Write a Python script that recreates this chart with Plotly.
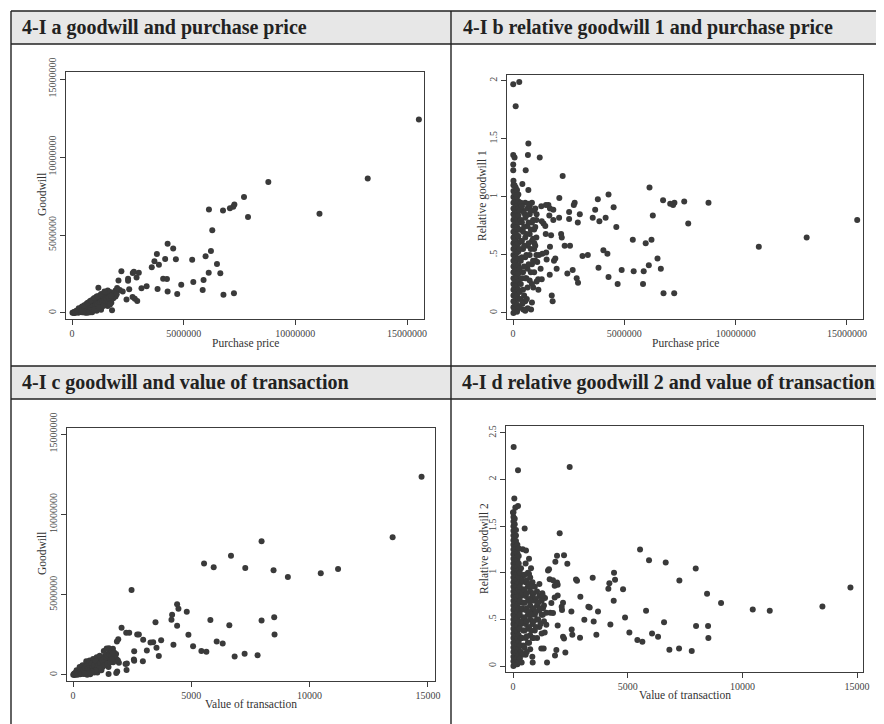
import plotly.graph_objects as go

W, H = 884, 724
OFF = 8      # the page body margin shifts the figure by 8 px
M = 1e6      # price / goodwill values below are given in millions

# ---------------- Panel a: goodwill vs purchase price (millions) ----------------
a_price = [15.53, 13.24, 11.08, 8.79, 7.70, 7.88, 7.27, 7.22, 7.07, 6.76, 6.13, 6.28, 6.22, 5.98,
           6.49, 6.12, 6.64, 5.89, 5.85, 6.78, 7.25, 5.38, 5.43, 4.89, 4.71, 4.28, 3.83, 4.08, 4.25,
           4.28, 4.53, 4.65, 4.17, 3.80, 3.69, 3.89, 3.57, 3.34, 3.11, 2.99, 2.89, 2.77, 2.72, 2.51,
           2.51, 2.21, 2.08, 2.56, 2.44, 2.71, 2.81, 2.92, 2.27, 2.14, 1.79, 1.76, 1.18]
a_goodwill = [12.40, 8.62, 6.36, 8.39, 7.43, 6.15, 6.96, 6.81, 6.72, 6.57, 6.64, 5.31, 3.97, 3.63,
              3.14, 2.58, 2.54, 2.11, 1.47, 1.17, 1.26, 3.41, 1.98, 1.81, 1.22, 1.37, 1.54, 2.20, 2.18,
              4.44, 4.14, 3.44, 3.46, 3.78, 3.31, 3.09, 2.94, 1.71, 1.58, 2.58, 2.28, 2.65, 2.56, 2.20,
              2.07, 2.67, 2.09, 1.52, 0.87, 1.02, 0.92, 0.77, 1.37, 1.47, 0.17, 0.66, 1.62]
a_price_cluster = [0.02, 0.05, 0.08, 0.10, 0.12, 0.15, 0.18, 0.20, 0.22, 0.25, 0.28, 0.30, 0.32, 0.35,
                   0.38, 0.40, 0.42, 0.45, 0.48, 0.50, 0.52, 0.55, 0.58, 0.60, 0.62, 0.65, 0.68, 0.70,
                   0.72, 0.75, 0.78, 0.80, 0.82, 0.85, 0.88, 0.90, 0.92, 0.95, 0.98, 1.00, 1.02, 1.05,
                   1.08, 1.10, 1.12, 1.15, 1.18, 1.20, 1.22, 1.25, 1.28, 1.30, 1.32, 1.35, 1.38, 1.40,
                   1.42, 1.45, 1.48, 1.50, 1.52, 1.55, 1.58, 1.60, 1.62, 1.65, 1.68, 1.70, 1.72, 1.75,
                   1.78, 1.80, 1.85, 1.88, 1.90, 1.95, 0.30, 0.60, 0.90, 0.45, 1.30, 1.60, 1.70, 1.95,
                   2.00, 2.02, 0.15, 0.25, 0.35, 0.45, 0.55, 0.65, 0.75, 0.85, 0.95, 1.05, 1.15, 1.25,
                   1.35, 1.45, 1.55, 1.65, 1.75, 0.40, 0.60, 0.80, 1.00, 1.20, 1.40, 0.70, 0.50, 1.10,
                   1.25, 1.45, 1.60, 0.95, 0.80, 0.65, 0.55, 0.70, 0.85, 1.00, 1.15, 1.30, 1.45]
a_goodwill_cluster = [0.01, 0.03, 0.02, 0.07, 0.00, 0.10, 0.04, 0.14, 0.08, 0.18, 0.02, 0.12, 0.22,
                      0.06, 0.28, 0.16, 0.35, 0.04, 0.24, 0.40, 0.12, 0.32, 0.48, 0.20, 0.05, 0.38,
                      0.55, 0.28, 0.12, 0.45, 0.62, 0.35, 0.05, 0.52, 0.70, 0.22, 0.42, 0.60, 0.78,
                      0.32, 0.50, 0.68, 0.85, 0.15, 0.40, 0.60, 0.78, 0.95, 0.30, 0.52, 0.70, 0.88,
                      1.05, 0.45, 0.65, 0.85, 1.00, 1.15, 0.58, 0.78, 0.95, 1.10, 1.25, 0.70, 0.90,
                      1.05, 1.20, 1.35, 0.85, 1.00, 1.15, 1.30, 0.95, 1.10, 1.25, 1.05, 0.30, 0.02,
                      0.05, 0.42, 0.20, 0.45, 0.55, 1.45, 1.20, 1.60, 0.05, 0.10, 0.18, 0.22, 0.25,
                      0.30, 0.35, 0.40, 0.45, 0.50, 0.55, 0.62, 0.72, 0.82, 0.92, 0.98, 1.10, 0.08,
                      0.12, 0.18, 0.22, 0.35, 0.45, 0.02, 0.05, 1.05, 1.12, 1.30, 1.45, 0.90, 0.75,
                      0.60, 0.50, 0.66, 0.80, 0.96, 1.08, 1.22, 1.38]

# ---------------- Panel b: relative goodwill 1 vs purchase price (millions) ----------------
b_price = [15.46, 13.19, 11.04, 8.78, 7.69, 7.87, 7.25, 7.19, 7.06, 6.74, 6.13, 6.28, 6.22, 5.96,
           6.49, 6.10, 6.64, 5.87, 5.84, 6.76, 7.24, 5.38, 5.42, 4.88, 4.70, 4.29, 3.84, 4.06, 4.24,
           4.29, 4.52, 4.64, 4.16, 3.81, 3.69, 3.88, 3.58, 3.36, 3.12, 3.00, 2.91, 2.77, 2.73, 2.52,
           2.52, 2.23, 2.08, 2.56, 2.32, 2.68, 2.86, 2.92, 2.44, 2.16, 2.19, 1.96, 1.78, 1.74, 1.20,
           2.07, 1.81, 1.84, 1.90, 1.65, 1.66, 1.51, 1.71, 1.47, 1.37, 1.45, 1.29, 1.59, 1.48, 1.27,
           1.66, 1.81, 1.63, 1.49, 1.32, 1.17, 1.09, 1.01, 1.24, 1.13, 1.29, 1.06, 0.91, 1.14, 0.85,
           0.81, 0.46, 0.66, 0.96, 1.06, 0.69, 0.67, 0.57, 0.01, 0.28, 0.12, 0.01, 0.07, 0.01, 0.01,
           0.42, 0.69]
b_relgw1 = [0.80, 0.65, 0.57, 0.95, 0.96, 0.77, 0.95, 0.93, 0.94, 0.97, 1.08, 0.84, 0.63, 0.60,
            0.47, 0.41, 0.38, 0.36, 0.25, 0.17, 0.17, 0.63, 0.36, 0.37, 0.25, 0.31, 0.39, 0.54, 0.51,
            1.02, 0.91, 0.74, 0.82, 0.98, 0.89, 0.79, 0.82, 0.50, 0.49, 0.85, 0.78, 0.95, 0.93, 0.87,
            0.81, 1.18, 0.99, 0.58, 0.58, 0.37, 0.30, 0.26, 0.34, 0.68, 0.65, 0.38, 0.10, 0.15, 1.34,
            0.82, 0.80, 0.45, 0.47, 0.33, 0.57, 0.46, 0.67, 0.68, 0.77, 0.75, 0.79, 0.93, 0.93, 0.92,
            0.90, 0.89, 0.84, 0.52, 0.51, 0.50, 0.44, 0.45, 0.38, 0.29, 0.29, 0.27, 0.22, 0.20, 0.09,
            0.03, 0.03, 0.04, 0.60, 0.85, 1.46, 1.36, 1.23, 1.97, 1.99, 1.78, 1.36, 1.34, 1.28, 1.23,
            1.11, 1.06]
b_price_cluster = ([0.02] * 24 + [0.07] * 17 + [0.12] * 22 + [0.18] * 16 + [0.24] * 16 +
                   [0.35, 0.35, 0.35, 0.35, 0.35, 0.35, 0.45, 0.45, 0.45, 0.45, 0.45,
                    0.55, 0.55, 0.55, 0.55, 0.55, 0.55, 0.65, 0.65, 0.65, 0.65, 0.65,
                    0.75, 0.75, 0.75, 0.75, 0.75, 0.85, 0.85, 0.85, 0.85, 0.85,
                    0.95, 0.95, 0.95, 0.95, 1.05, 1.05, 1.05,
                    0.30, 0.30, 0.30, 0.30, 0.40, 0.40, 0.40, 0.40, 0.40, 0.50, 0.50, 0.50, 0.50,
                    0.60, 0.60, 0.60, 0.60, 0.70, 0.70, 0.70, 0.70, 0.80, 0.80, 0.80, 0.80,
                    0.90, 0.90, 0.90, 1.00, 1.00, 1.00, 0.30, 0.50, 0.62, 0.42, 0.30, 0.55])
b_relgw1_cluster = [0.00, 0.05, 0.10, 0.15, 0.20, 0.25, 0.30, 0.35, 0.40, 0.45, 0.50, 0.55, 0.60,
                    0.65, 0.70, 0.75, 0.80, 0.85, 0.90, 0.95, 1.00, 1.05, 1.10, 1.14,
                    0.03, 0.09, 0.16, 0.22, 0.29, 0.36, 0.42, 0.49, 0.56, 0.62, 0.69, 0.76, 0.82,
                    0.89, 0.96, 1.03, 1.10,
                    0.02, 0.08, 0.13, 0.18, 0.23, 0.28, 0.33, 0.38, 0.43, 0.48, 0.53, 0.58, 0.63,
                    0.68, 0.73, 0.78, 0.83, 0.88, 0.93, 0.98, 1.03, 1.08,
                    0.01, 0.07, 0.15, 0.24, 0.31, 0.39, 0.46, 0.52, 0.59, 0.67, 0.74, 0.81, 0.87,
                    0.94, 1.00, 1.06,
                    0.04, 0.12, 0.20, 0.27, 0.34, 0.41, 0.47, 0.53, 0.60, 0.66, 0.72, 0.78, 0.84,
                    0.90, 0.96, 1.02,
                    0.25, 0.45, 0.62, 0.80, 0.95, 0.12, 0.35, 0.55, 0.70, 0.88, 0.20,
                    0.30, 0.48, 0.65, 0.82, 0.95, 0.10, 0.38, 0.58, 0.75, 0.90, 0.22,
                    0.28, 0.50, 0.68, 0.85, 0.92, 0.42, 0.62, 0.78, 0.95, 0.25,
                    0.55, 0.72, 0.88, 0.35, 0.65, 0.80, 0.50,
                    0.38, 0.55, 0.72, 0.88, 0.30, 0.48, 0.62, 0.78, 0.92, 0.40, 0.58, 0.74, 0.86,
                    0.30, 0.50, 0.68, 0.84, 0.42, 0.60, 0.78, 0.94, 0.35, 0.55, 0.72, 0.88,
                    0.45, 0.64, 0.80, 0.58, 0.74, 0.90, 0.18, 0.15, 0.12, 0.08, 0.05, 0.02]

# ---------------- Panel c: goodwill (millions) vs value of transaction ----------------
c_value = [14732, 13509, 11203, 10472, 9081, 8476, 7281, 7970, 6677, 5946, 5538, 2474, 4400, 4456,
           4189, 4161, 4808, 4400, 3486, 5806, 6607, 7970, 8504, 8518, 4878, 4245, 5075, 5426, 5637,
           6073, 6326, 6832, 7253, 7801, 3725, 3388, 3275, 3528, 3121, 3627, 2966, 2713, 2783, 2376,
           2249, 2052, 1912, 1855, 2586, 2572, 2586, 2952, 2277, 2263, 2221, 1869, 1827, 1504, 1940,
           1687, 1518]
c_goodwill = [12.35, 8.58, 6.60, 6.33, 6.10, 6.52, 6.67, 8.33, 7.42, 6.71, 6.94, 5.29, 4.40, 4.13,
              3.75, 3.44, 3.94, 3.06, 3.29, 3.42, 3.10, 3.40, 3.60, 2.52, 2.50, 1.88, 1.79, 1.50, 1.44,
              2.08, 1.96, 1.15, 1.33, 1.23, 2.17, 2.04, 2.02, 1.69, 1.52, 1.19, 2.19, 2.52, 2.52, 2.63,
              2.63, 2.94, 2.23, 2.08, 1.48, 0.96, 0.88, 0.85, 0.71, 0.31, 0.69, 0.21, 0.13, 0.06, 0.77,
              1.63, 1.67]
c_value_cluster = [10, 40, 70, 100, 130, 160, 190, 220, 250, 280, 310, 340, 370, 400, 430, 460, 490,
                   520, 550, 580, 610, 640, 670, 700, 730, 760, 790, 820, 850, 880, 910, 940, 970,
                   1000, 1030, 1060, 1090, 1120, 1150, 1180, 1210, 1240, 1270, 1300, 1330, 1360,
                   1390, 1420, 1450, 1480, 1510, 1540, 1570, 1600, 1630, 1660, 1700, 1740, 1780,
                   1820, 1860, 1500, 1200, 900, 600, 1700, 1800, 1900, 250, 500, 150, 150, 280, 400,
                   560, 700, 850, 1000, 1130, 1300, 1420, 50, 120, 200, 300, 350, 450, 520, 600, 650,
                   720, 780, 830, 900, 960, 1010, 1080, 1140, 1230, 1320, 1410, 1470, 1550, 1620,
                   1680, 1250, 1350, 1450, 1100, 950, 800, 700, 500, 1580, 1650]
c_goodwill_cluster = [0.01, 0.03, 0.00, 0.08, 0.04, 0.12, 0.02, 0.16, 0.08, 0.22, 0.04, 0.30, 0.14,
                      0.38, 0.22, 0.06, 0.45, 0.30, 0.14, 0.52, 0.38, 0.20, 0.60, 0.45, 0.05, 0.68,
                      0.52, 0.30, 0.75, 0.60, 0.40, 0.82, 0.68, 0.48, 0.15, 0.90, 0.75, 0.55, 0.98,
                      0.82, 0.62, 1.05, 0.90, 0.70, 1.15, 0.98, 0.78, 1.25, 1.05, 0.85, 1.35, 1.15,
                      0.95, 1.30, 1.45, 1.10, 1.25, 1.40, 1.15, 1.30, 0.95, 0.50, 0.30, 0.15, 0.02,
                      0.80, 1.05, 0.90, 0.30, 0.60, 0.20, 0.30, 0.50, 0.60, 0.85, 0.90, 1.00, 1.10,
                      1.20, 1.50, 1.65, 0.10, 0.15, 0.08, 0.18, 0.08, 0.30, 0.45, 0.55, 0.40, 0.30,
                      0.70, 0.50, 0.60, 0.85, 0.35, 0.60, 0.75, 0.90, 1.00, 1.10, 1.20, 1.25, 1.20,
                      1.35, 0.50, 0.60, 0.70, 0.42, 0.28, 0.20, 0.12, 0.10, 0.80, 1.00]

# ---------------- Panel d: relative goodwill 2 vs value of transaction ----------------
d_value = [14709, 13488, 11192, 10451, 9070, 8459, 7253, 7965, 6657, 5930, 5538, 2471, 29, 218,
           4404, 4448, 4201, 4157, 4797, 4390, 3474, 5800, 6584, 7980, 8503, 8517, 4884, 4244, 5073,
           5422, 5640, 6061, 6323, 6817, 7238, 7791, 3706, 3343, 3285, 3517, 3110, 3634, 2936, 2747,
           2791, 2369, 2224, 2035, 1919, 1846, 2544, 2558, 2587, 2922, 2180, 2224, 2282, 1890, 1831,
           1483, 1948, 2180, 2137, 2122, 1948, 1948, 1919, 1817, 1672, 1628, 1744, 1526, 1570, 1599,
           1744, 1817, 1453, 1308, 1395, 1279, 1453, 1381, 1235, 1337, 843, 858, 378, 509, 698, 785,
           698, 422, 567, 58, 218, 102, 0]
d_relgw2 = [0.843, 0.639, 0.593, 0.607, 0.675, 0.775, 0.918, 1.046, 1.111, 1.136, 1.250, 2.136, 2.350,
            2.100, 1.000, 0.925, 0.889, 0.829, 0.825, 0.700, 0.946, 0.593, 0.471, 0.429, 0.429, 0.300,
            0.521, 0.446, 0.361, 0.279, 0.261, 0.350, 0.314, 0.175, 0.189, 0.161, 0.586, 0.629, 0.636,
            0.479, 0.496, 0.336, 0.743, 0.929, 0.914, 1.096, 1.189, 1.425, 1.182, 1.118, 0.586, 0.393,
            0.336, 0.304, 0.314, 0.296, 0.146, 0.171, 0.114, 0.039, 0.436, 0.679, 0.600, 0.636, 0.757,
            0.871, 0.896, 0.861, 0.675, 0.571, 0.568, 1.025, 1.039, 0.932, 0.921, 0.736, 0.571, 0.621,
            0.729, 0.782, 0.443, 0.361, 0.189, 0.189, 0.100, 0.039, 0.039, 1.475, 1.150, 1.050, 0.986,
            1.254, 1.239, 1.796, 1.718, 1.700, 1.646]
d_value_cluster = ([20] * 34 + [75] * 25 + [130] * 25 + [190] * 19 + [250] * 18 +
                   [350, 350, 350, 350, 350, 350, 350, 450, 450, 450, 450, 450, 450,
                    550, 550, 550, 550, 550, 550, 550, 650, 650, 650, 650, 650, 650,
                    750, 750, 750, 750, 750, 750, 850, 850, 850, 850, 850,
                    950, 950, 950, 950, 1050, 1050, 1050, 1050, 1150, 1150, 1150, 1150,
                    1250, 1250, 1250, 1350, 1350,
                    300, 300, 300, 300, 300, 300, 400, 400, 400, 400, 400, 500, 500, 500, 500, 500, 500,
                    600, 600, 600, 600, 600, 700, 700, 700, 700, 700, 800, 800, 800, 800,
                    900, 900, 900, 900, 1000, 1000, 1000, 1100, 1100, 1200, 1200, 1300, 1300,
                    400, 600, 300])
d_relgw2_cluster = [0.00, 0.05, 0.10, 0.15, 0.20, 0.25, 0.30, 0.35, 0.40, 0.45, 0.50, 0.55, 0.60,
                    0.65, 0.70, 0.75, 0.80, 0.85, 0.90, 0.95, 1.00, 1.05, 1.10, 1.15, 1.20, 1.25,
                    1.30, 1.35, 1.40, 1.45, 1.50, 1.55, 1.60, 1.65,
                    0.03, 0.09, 0.16, 0.22, 0.29, 0.35, 0.42, 0.48, 0.55, 0.61, 0.68, 0.74, 0.81,
                    0.87, 0.94, 1.00, 1.07, 1.13, 1.20, 1.26, 1.33, 1.39, 1.46, 1.52, 1.58,
                    0.02, 0.08, 0.14, 0.20, 0.26, 0.32, 0.38, 0.44, 0.50, 0.56, 0.62, 0.68, 0.74,
                    0.80, 0.86, 0.92, 0.98, 1.04, 1.10, 1.16, 1.22, 1.28, 1.34, 1.40, 1.46,
                    0.02, 0.09, 0.16, 0.23, 0.30, 0.37, 0.44, 0.51, 0.58, 0.65, 0.72, 0.79, 0.86,
                    0.93, 1.00, 1.07, 1.14, 1.21, 1.30,
                    0.05, 0.12, 0.19, 0.26, 0.33, 0.40, 0.47, 0.54, 0.61, 0.68, 0.75, 0.82, 0.89,
                    0.96, 1.03, 1.10, 1.18, 1.26,
                    0.15, 0.30, 0.45, 0.60, 0.75, 0.90, 1.05, 0.22, 0.38, 0.52, 0.68, 0.82, 0.97,
                    0.12, 0.30, 0.45, 0.60, 0.75, 0.90, 1.10, 0.25, 0.40, 0.55, 0.70, 0.85, 1.00,
                    0.18, 0.33, 0.50, 0.65, 0.80, 0.95, 0.30, 0.45, 0.60, 0.75, 0.90,
                    0.38, 0.55, 0.70, 0.85, 0.30, 0.50, 0.65, 0.80, 0.42, 0.60, 0.75, 0.88,
                    0.35, 0.55, 0.70, 0.48, 0.65,
                    0.22, 0.40, 0.55, 0.70, 0.85, 1.00, 0.30, 0.48, 0.62, 0.78, 0.92, 0.20, 0.38,
                    0.52, 0.68, 0.82, 0.98, 0.32, 0.48, 0.62, 0.78, 0.92, 0.25, 0.42, 0.58, 0.72,
                    0.88, 0.38, 0.55, 0.70, 0.85, 0.30, 0.48, 0.62, 0.78, 0.42, 0.58, 0.72, 0.50,
                    0.68, 0.45, 0.62, 0.55, 0.75, 0.12, 0.15, 0.08]

# ---------------- texts / ticks ----------------
headers = ["4-I a goodwill and purchase price", "4-I b relative goodwill 1 and purchase price",
           "4-I c goodwill and value of transaction", "4-I d relative goodwill 2 and value of transaction"]
x_titles = ["Purchase price", "Purchase price", "Value of transaction", "Value of transaction"]
y_titles = ["Goodwill", "Relative goodwill 1", "Goodwill", "Relative goodwill 2"]
price_ticks = [0, 5e6, 10e6, 15e6]
price_ticktext = ["0", "5000000", "10000000", "15000000"]
value_ticks = [0, 5000, 10000, 15000]
value_ticktext = ["0", "5000", "10000", "15000"]
gw_ticks = [0, 5e6, 10e6, 15e6]
gw_ticktext = ["0", "5000000", "10000000", "15000000"]
rel1_ticks = [0, 0.5, 1, 1.5, 2]
rel1_ticktext = ["0", ".5", "1", "1.5", "2"]
rel2_ticks = [0, 0.5, 1, 1.5, 2, 2.5]
rel2_ticktext = ["0", ".5", "1", "1.5", "2", "2.5"]

FONT = "Liberation Serif"
DOT = "#3a3a3a"


def fx(px):
    return (px - OFF) / W


def fy(py):
    return 1 - (py - OFF) / H


fig = go.Figure()
panels = [
    dict(x=[v * M for v in a_price + a_price_cluster],
         y=[v * M for v in a_goodwill + a_goodwill_cluster],
         dom=(66, 424, 72, 319), xr=[-270000, 15.76e6], yr=[-385000, 15.45e6],
         xt=(price_ticks, price_ticktext), yt=(gw_ticks, gw_ticktext),
         xtitle=(245, 343), ytitle=(42, 195)),
    dict(x=[v * M for v in b_price + b_price_cluster], y=b_relgw1 + b_relgw1_cluster,
         dom=(507, 863, 75, 319), xr=[-270000, 15.72e6], yr=[-0.052, 2.05],
         xt=(price_ticks, price_ticktext), yt=(rel1_ticks, rel1_ticktext),
         xtitle=(685, 343), ytitle=(482, 196)),
    dict(x=c_value + c_value_cluster, y=[v * M for v in c_goodwill + c_goodwill_cluster],
         dom=(67, 435, 428, 681), xr=[-254, 15300], yr=[-374000, 15.38e6],
         xt=(value_ticks, value_ticktext), yt=(gw_ticks, gw_ticktext),
         xtitle=(251, 704), ytitle=(42, 554)),
    dict(x=d_value + d_value_cluster, y=d_relgw2 + d_relgw2_cluster,
         dom=(506, 863, 426, 672), xr=[-305, 15257], yr=[-0.064, 2.575],
         xt=(value_ticks, value_ticktext), yt=(rel2_ticks, rel2_ticktext),
         xtitle=(685, 695), ytitle=(484, 549)),
]

layout_axes = {}
annotations = []
for i, p in enumerate(panels, start=1):
    xa = "x" if i == 1 else f"x{i}"
    ya = "y" if i == 1 else f"y{i}"
    fig.add_trace(go.Scatter(x=p["x"], y=p["y"], mode="markers", xaxis=xa, yaxis=ya,
                             marker=dict(size=6, color=DOT, line=dict(width=0)),
                             hoverinfo="x+y", showlegend=False))
    x0, x1, y0, y1 = p["dom"]
    common = dict(showline=True, mirror=True, linecolor="#3c3c3c", linewidth=1.3,
                  ticks="outside", ticklen=5, tickwidth=1, tickcolor="#3c3c3c",
                  showgrid=False, zeroline=False, automargin=False,
                  tickfont=dict(family=FONT, size=10, color="#444444"))
    layout_axes["xaxis" if i == 1 else f"xaxis{i}"] = dict(
        domain=[fx(x0), fx(x1)], range=p["xr"], anchor=ya,
        tickvals=p["xt"][0], ticktext=p["xt"][1], **common)
    layout_axes["yaxis" if i == 1 else f"yaxis{i}"] = dict(
        domain=[fy(y1), fy(y0)], range=p["yr"], anchor=xa, tickangle=-90,
        tickvals=p["yt"][0], ticktext=p["yt"][1], **common)
    annotations.append(dict(text=x_titles[i - 1], x=fx(p["xtitle"][0]), y=fy(p["xtitle"][1]),
                            xref="paper", yref="paper", showarrow=False, xanchor="center",
                            yanchor="middle", font=dict(family=FONT, size=11.5, color="#333333")))
    annotations.append(dict(text=y_titles[i - 1], x=fx(p["ytitle"][0]), y=fy(p["ytitle"][1]),
                            xref="paper", yref="paper", showarrow=False, xanchor="center",
                            yanchor="middle", textangle=-90,
                            font=dict(family=FONT, size=11.5, color="#333333")))

# headers
header_pos = [(20, 27.5), (461, 27.5), (20, 382.5), (460, 382.5)]
for t, (hx, hy) in zip(headers, header_pos):
    annotations.append(dict(text="<b>" + t + "</b>", x=fx(hx), y=fy(hy), xref="paper", yref="paper",
                            showarrow=False, xanchor="left", yanchor="middle",
                            font=dict(family=FONT, size=20, color="#222222")))

shapes = []
for (ya, yb) in [(11, 44), (366, 399)]:
    shapes.append(dict(type="rect", xref="paper", yref="paper", x0=fx(11), x1=1, y0=fy(yb), y1=fy(ya),
                       fillcolor="#e7e7e7", line=dict(width=0), layer="below"))
for yy in [11, 44, 366, 399]:
    shapes.append(dict(type="line", xref="paper", yref="paper", x0=fx(11), x1=1, y0=fy(yy), y1=fy(yy),
                       line=dict(color="#222222", width=1.4)))
for xx in [11, 451]:
    shapes.append(dict(type="line", xref="paper", yref="paper", x0=fx(xx), x1=fx(xx), y0=0, y1=fy(11),
                       line=dict(color="#222222", width=1.4)))

fig.update_layout(width=W, height=H, margin=dict(l=0, r=0, t=0, b=0, autoexpand=False),
                  paper_bgcolor="white", plot_bgcolor="white",
                  annotations=annotations, shapes=shapes, **layout_axes)
fig.write_html("out.html")
